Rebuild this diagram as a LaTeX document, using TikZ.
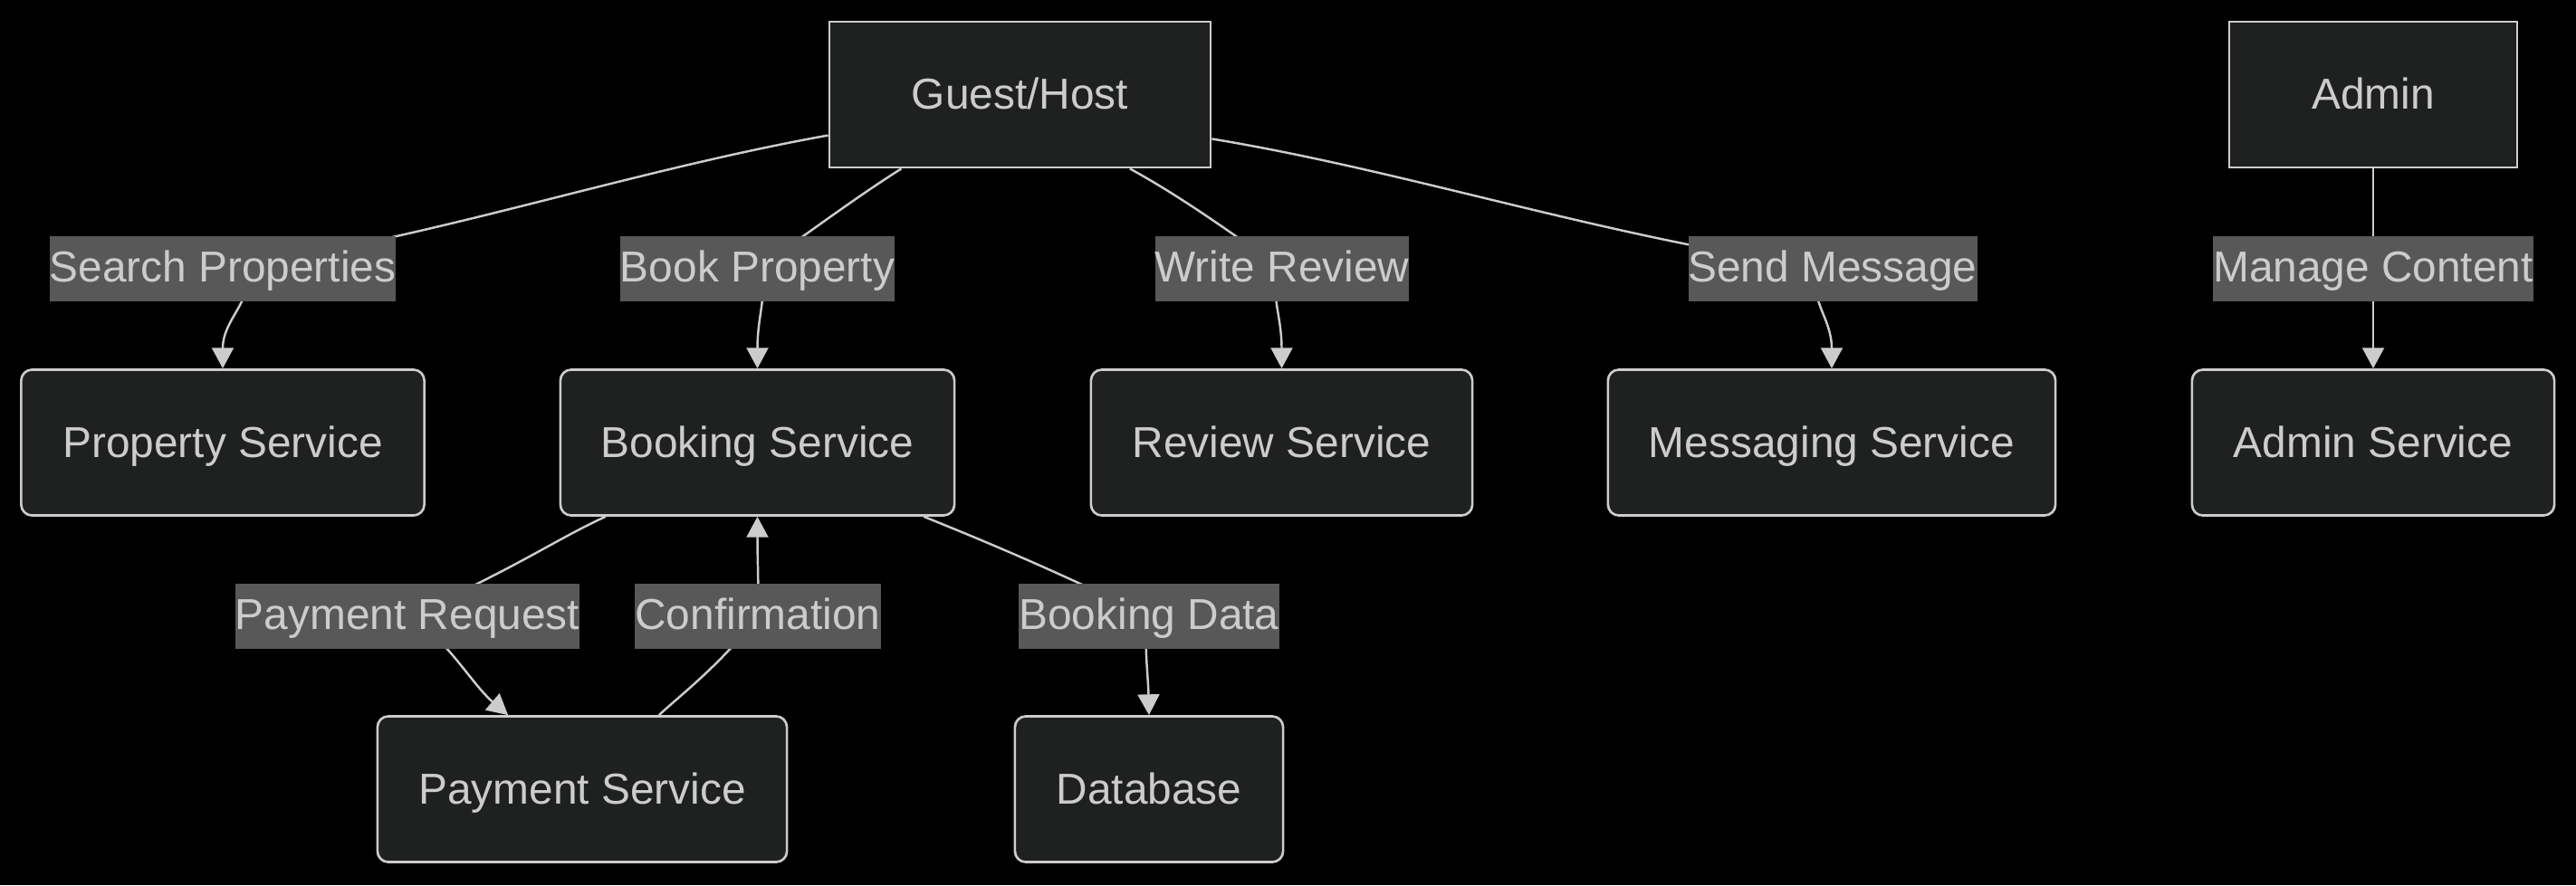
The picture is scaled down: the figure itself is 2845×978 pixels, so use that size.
\documentclass[tikz,border=0pt]{standalone}
\usepackage{fontspec}
\setmainfont{Liberation Sans}
\usetikzlibrary{arrows.meta,backgrounds}
\definecolor{bgc}{HTML}{000000}
\definecolor{nodefill}{HTML}{1F2020}
\definecolor{strokec}{HTML}{CCCCCC}
\definecolor{lblfill}{HTML}{585858}
\definecolor{txtc}{HTML}{CCCCCC}
\begin{document}
\begin{tikzpicture}[x=0.01cm,y=-0.01cm,
  actor/.style={draw=strokec, line width=0.75pt, fill=nodefill, text=txtc,
    font=\fontsize{13.6pt}{16pt}\selectfont, minimum height=1.61cm, inner sep=0pt,
    text height=10.8pt, text depth=1.6pt},
  svc/.style={actor, rounded corners=0.12cm},
  lbl/.style={fill=lblfill, text=txtc, font=\fontsize{13.6pt}{16pt}\selectfont,
    inner xsep=0pt, inner ysep=0pt, minimum height=0.72cm,
    text height=10.3pt, text depth=2.1pt},
  conn/.style={draw=strokec, line width=0.7pt},
  arr/.style={conn, -{Triangle[length=6.5pt,width=6.8pt]}}
]
\useasboundingbox (0,0) rectangle (2845,978);

% nodes
\node[actor, minimum width=4.21cm] (GH) at (1126.5,104.5) {Guest/Host};
\node[actor, minimum width=3.18cm] (AD) at (2621,104.5) {Admin};
\node[svc, minimum width=4.45cm] (PS) at (246,489) {Property Service};
\node[svc, minimum width=4.35cm] (BS) at (836.5,489) {Booking Service};
\node[svc, minimum width=4.21cm] (RS) at (1415.5,489) {Review Service};
\node[svc, minimum width=4.94cm] (MS) at (2023,489) {Messaging Service};
\node[svc, minimum width=4.00cm] (AS) at (2621,489) {Admin Service};
\node[svc, minimum width=4.52cm] (PY) at (643,872) {Payment Service};
\node[svc, minimum width=2.96cm] (DB) at (1269,872) {Database};

% labels
\node[lbl] (SP) at (246,297) {Search Properties};
\node[lbl] (BP) at (836.5,297) {Book Property};
\node[lbl] (WR) at (1416,297) {Write Review};
\node[lbl] (SM) at (2024,297) {Send Message};
\node[lbl] (MC) at (2621,297) {Manage Content};
\node[lbl] (PR) at (450,681) {Payment Request};
\node[lbl] (CF) at (837,681) {Confirmation};
\node[lbl] (BD) at (1269,681) {Booking Data};

\begin{scope}[on background layer]
\fill[bgc] (0,0) rectangle (2845,978);
% Search Properties
\draw[arr] (GH.192.5) .. controls (690,190) and (473,265) .. (SP.center)
  .. controls (300,320) and (246,345) .. (PS.north);
% Book Property
\draw[arr] (GH.212.8) .. controls (950,215) and (900,252) .. (BP.center)
  .. controls (850,320) and (836.5,345) .. (BS.north);
% Write Review
\draw[arr] (GH.326.5) .. controls (1300,215) and (1350,250) .. (WR.center)
  .. controls (1400,320) and (1415.5,345) .. (RS.north);
% Send Message
\draw[arr] (GH.347.5) .. controls (1560,190) and (1780,265) .. (SM.center)
  .. controls (1985,320) and (2023,345) .. (MS.north);
% Manage Content
\draw[arr] (AD.south) -- (MC.center) -- (AS.north);
% Payment Request
\draw[arr] (BS.206.1) .. controls (610,598) and (570,628) .. (PR.center)
  .. controls (490,700) and (520,755) .. (PY.135);
% Confirmation
\draw[arr] (PY.44.3) .. controls (755,765) and (795,735) .. (CF.center)
  .. controls (838,640) and (836.5,620) .. (BS.south);
% Booking Data
\draw[arr] (BS.336.4) .. controls (1085,597) and (1160,628) .. (BD.center)
  .. controls (1262,700) and (1268,745) .. (DB.north);
\end{scope}
\end{tikzpicture}
\end{document}
